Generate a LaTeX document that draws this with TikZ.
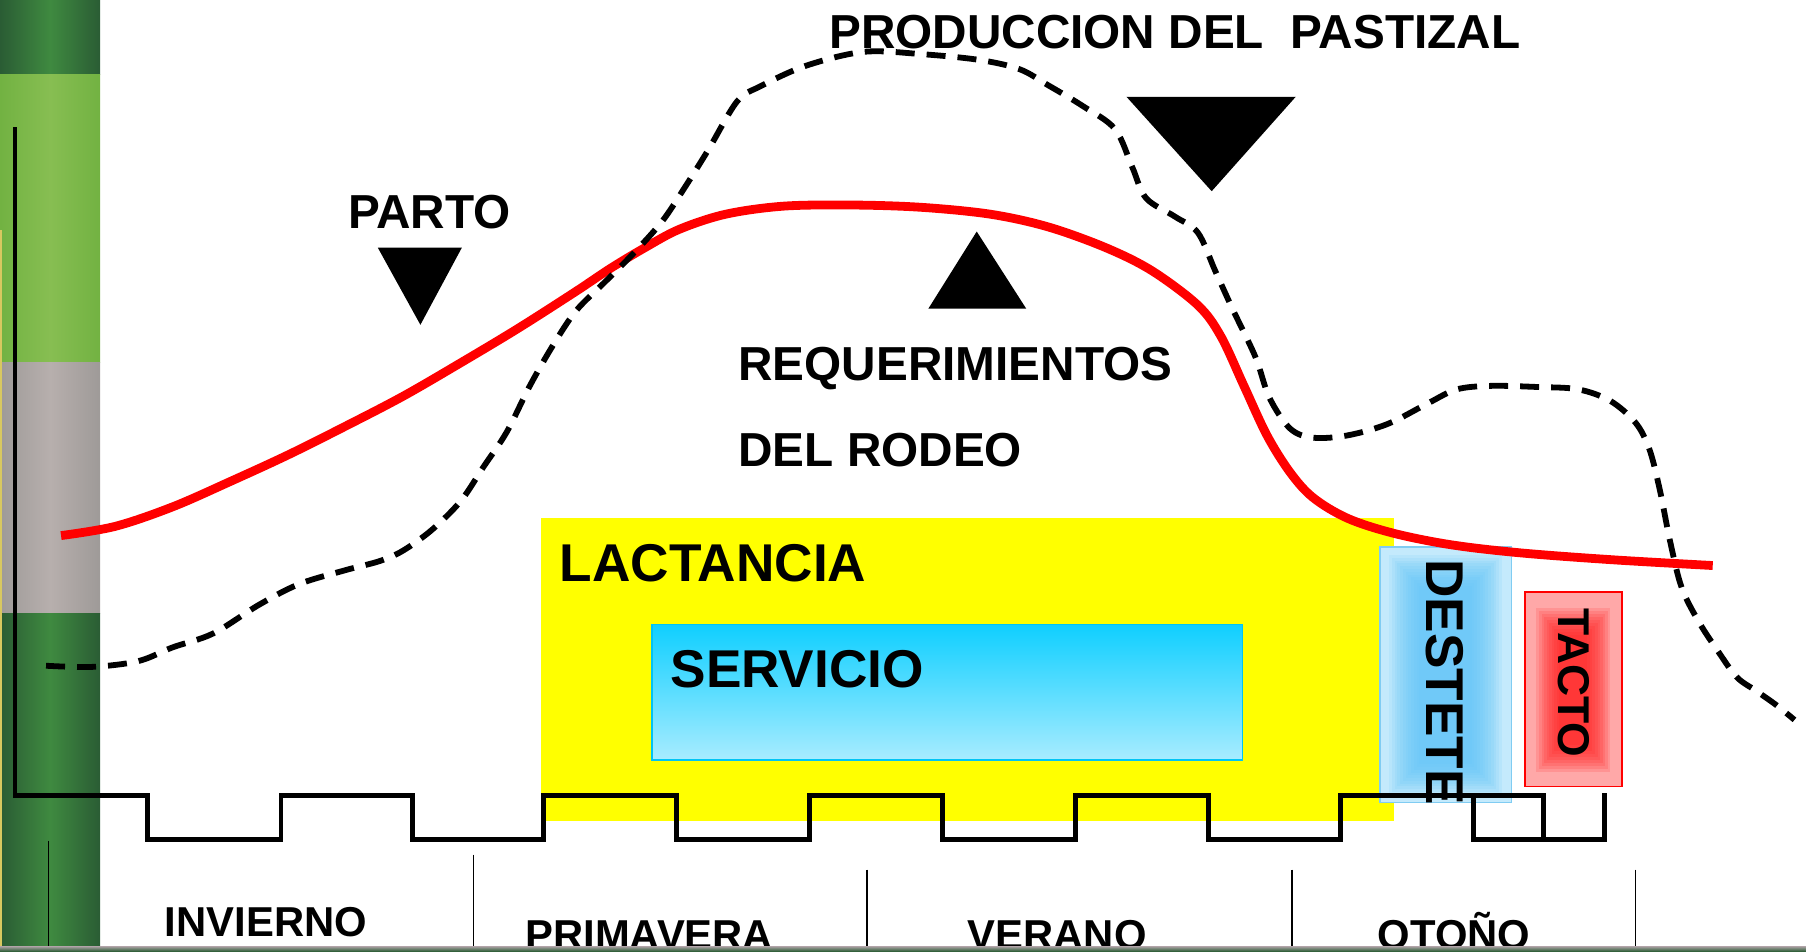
\documentclass[tikz,border=0pt]{standalone}
\usepackage{fontspec}
\setmainfont{Liberation Sans}
\definecolor{dgE}{HTML}{2A5C34}
\definecolor{dgC}{HTML}{3F8A40}
\definecolor{lgE}{HTML}{72B242}
\definecolor{lgC}{HTML}{87BE52}
\definecolor{grE}{HTML}{9E9A98}
\definecolor{grC}{HTML}{B7AFAD}
\definecolor{yel}{RGB}{255,255,0}
\definecolor{redc}{RGB}{255,0,0}
\definecolor{servTop}{HTML}{0FCFFF}
\definecolor{servBot}{HTML}{A8ECFF}
\definecolor{servBd}{HTML}{00C4F4}
\definecolor{destOut}{HTML}{C4EAFC}
\definecolor{destIn}{HTML}{5EC4F8}
\definecolor{destBd}{HTML}{80CCF2}
\definecolor{tacOut}{HTML}{FFA8A8}
\definecolor{tacIn}{HTML}{FF1E1E}
\definecolor{edgeY}{HTML}{D8C860}
\newcommand\fMain{\fontsize{47.7}{50}\selectfont\bfseries}
\newcommand\fBig{\fontsize{53.2}{56}\selectfont\bfseries}
\newcommand\fSeason{\fontsize{41.8}{44}\selectfont\bfseries}
\newcommand\fTacto{\fontsize{44.5}{47}\selectfont\bfseries}
\begin{document}
\begin{tikzpicture}[x=1.1518pt,y=-1.1518pt,
  lbl/.style={inner sep=0pt, anchor=base west},
  wave/.style={line width=4.8pt, line cap=rect, line join=miter},
  sep/.style={line width=1.7pt},
  tri/.style={fill=black},
  req/.style={draw=redc, line width=8.8pt},
  pasto/.style={draw=black, line width=5.8pt, dash pattern=on 19pt off 12pt}]
\useasboundingbox (0,0) rectangle (1568,826);
% left strip
\shade[left color=dgE, right color=dgE, middle color=dgC] (0,0) rectangle (87,65);
\shade[left color=lgE, right color=lgE, middle color=lgC] (0,65) rectangle (87,315);
\shade[left color=grE, right color=grE, middle color=grC] (0,315) rectangle (87,533);
\shade[left color=dgE, right color=dgE, middle color=dgC] (0,533) rectangle (87,826);
\fill[edgeY] (0,200) rectangle (2,826);
% boxes
\fill[yel] (470,450) rectangle (1210,713);
\shade[top color=servTop, bottom color=servBot] (566,542) rectangle (1079,660);
\draw[servBd, line width=1.4pt] (566,542) rectangle (1079,660);
\fill[destOut] (1198,475) rectangle (1312,697);
\foreach \i in {0,...,11}
  \fill[destIn, opacity=0.12] ({1206+\i*2.4},{482+\i*2.4}) rectangle ({1304-\i*2.4},{690-\i*2.4});
\draw[destBd, line width=1.3pt] (1198,475) rectangle (1312,697);
\fill[tacOut] (1324,514) rectangle (1408,683);
\foreach \i in {0,...,9}
  \fill[tacIn, opacity=0.15] ({1334+\i*2.2},{528+\i*2.6}) rectangle ({1398-\i*2.2},{670-\i*2.6});
\draw[redc, line width=1.6pt] (1324,514) rectangle (1408,683);
% axis and square wave
\draw[wave] (13,112) -- (13,691) -- (128,691) -- (128,729) -- (244,729) -- (244,691)
  -- (358,691) -- (358,729) -- (472,729) -- (472,691) -- (587,691) -- (587,729)
  -- (703,729) -- (703,691) -- (818,691) -- (818,729) -- (934,729) -- (934,691)
  -- (1049,691) -- (1049,729) -- (1164,729) -- (1164,691) -- (1279,691) -- (1279,729)
  -- (1393,729) -- (1393,691);
\draw[wave] (1279,691) -- (1340,691) -- (1340,729);
% season separators
\draw[sep] (42,730) -- (42,826);
\draw[sep] (411,742) -- (411,826);
\draw[sep] (753,755) -- (753,826);
\draw[sep] (1122,755) -- (1122,826);
\draw[sep] (1420,755) -- (1420,826);
% triangles
\fill[tri] (978,84) -- (1125,84) -- (1052,166) -- cycle;
\fill[tri] (328,215) -- (401,215) -- (365,282) -- cycle;
\fill[tri] (806,268) -- (891,268) -- (848,201) -- cycle;
% texts
\node[lbl] (prod) at (720,42) {\fMain PRODUCCION DEL~~PASTIZAL};
\node[lbl] (parto) at (302,198) {\fMain PARTO};
\node[lbl] (req) at (641,330) {\fMain REQUERIMIENTOS};
\node[lbl] (rodeo) at (641,405) {\fMain DEL RODEO};
\node[lbl] (lact) at (486,505) {\fBig LACTANCIA};
\node[lbl] (serv) at (582,597) {\fBig SERVICIO};
\node[inner sep=0pt, rotate=-90] (dest) at (1254,592) {\fBig DESTETE};
\node[inner sep=0pt, rotate=-90] (tacto) at (1366,593) {\fTacto TACTO};
\node[lbl] (inv) at (143,813) {\fSeason INVIERNO};
\node[lbl] (prim) at (456,824.5) {\fSeason PRIMAVERA};
\node[lbl] (ver) at (840,824.5) {\fSeason VERANO};
\node[lbl] (oto) at (1196,824.5) {\fSeason OTOÑO};
% bottom band
\shade[top color=grE, bottom color=dgE] (0,822) rectangle (1568,826);
% requirement curve
\draw[req] plot[smooth, tension=0.55] coordinates {
  (53,465) (100,457) (150,440) (200,418) (250,395) (300,370) (350,344) (400,315)
  (450,285) (500,253) (530,233) (560,215) (590,199) (630,186) (680,179) (740,178)
  (800,180) (860,186) (910,197) (960,215) (1000,235) (1040,265) (1060,292) (1080,335)
  (1100,378) (1120,410) (1140,432) (1170,450) (1210,463) (1260,473) (1320,480)
  (1400,486) (1487,491)};
% pasture production curve
\draw[pasto] plot[smooth, tension=0.55] coordinates {
  (40,578) (80,579) (120,574) (150,562) (185,550) (225,525) (260,507) (300,495)
  (330,487) (350,478) (375,460) (400,435) (420,405) (440,375) (460,335) (480,300)
  (500,270) (525,245) (550,220) (575,192) (595,162) (615,130) (640,88) (660,75)
  (700,57) (750,45) (800,47) (850,52) (885,60) (910,74) (940,92) (968,112) (983,145)
  (995,172) (1020,188) (1040,202) (1055,235) (1070,268) (1090,310) (1102,345)
  (1120,372) (1140,380) (1170,378) (1205,368) (1240,350) (1265,338) (1295,335)
  (1335,336) (1370,338) (1398,348) (1420,367) (1432,390) (1441,425) (1450,470)
  (1460,510) (1475,540) (1492,566) (1508,588) (1525,600) (1542,612) (1558,625)};
\end{tikzpicture}
\end{document}
